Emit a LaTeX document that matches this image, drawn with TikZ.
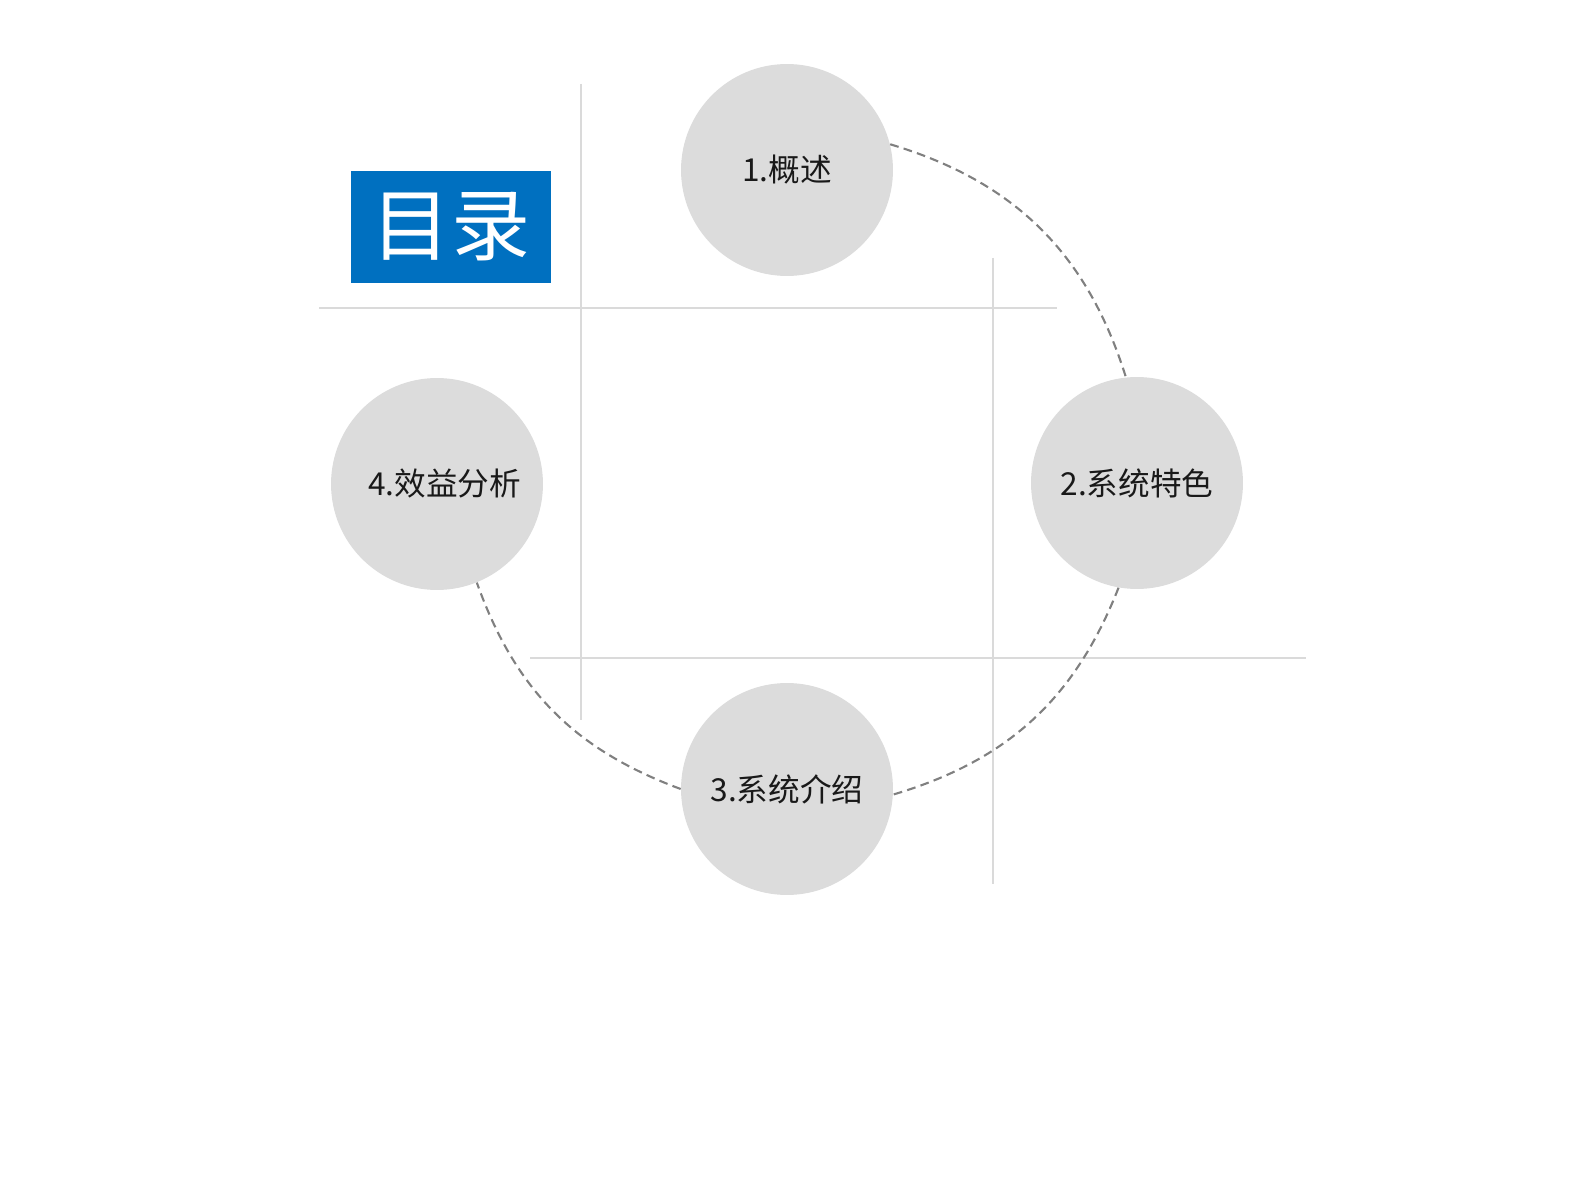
\documentclass[tikz,border=0pt]{standalone}
\usepackage{fontspec}
\newfontfamily\cjk{Noto Sans CJK SC}
\usepackage{tikz}
\usetikzlibrary{calc}
\definecolor{titleblue}{RGB}{0,112,192}
\definecolor{discgray}{RGB}{220,220,220}
\definecolor{gridgray}{RGB}{218,218,218}
\definecolor{arcgray}{RGB}{128,128,128}

\begin{document}
\begin{tikzpicture}[x=0.02cm,y=-0.02cm,
  disc/.style={circle,fill=discgray,minimum size=4.24cm,inner sep=0pt,text=black!90,font=\cjk\fontsize{18}{20}\selectfont},
  guide/.style={color=gridgray,line width=0.8pt},
  link/.style={color=arcgray,line width=1.2pt,dash pattern=on 5pt off 3pt}]
\useasboundingbox (0,0) rectangle (1587,1182);
% \draw[help lines, color=gray!30, dashed] (0,0) grid[step=100] (1587,1182);
\draw[guide] (581,84)--(581,720);
\draw[guide] (319,308)--(1057,308);
\draw[guide] (993,258)--(993,884);
\draw[guide] (530,658)--(1306,658);
\node[fill=titleblue,minimum width=4cm,minimum height=2.24cm,text=white,font=\cjk\fontsize{45}{48}\selectfont] (title) at (451,227){目录};
\node[disc] (s1) at (787,170){1.概述};
\node[disc] (s2) at (1137,483){2.系统特色};
\node[disc] (s3) at (787,789){3.系统介绍};
\node[disc] (s4) at (437,484){\hspace*{0.3cm}4.效益分析};
\draw[link] (s1.14) to[bend left=28] (s2.96);
\draw[link] (s2.260) to[bend left=26] (s3.357);
\draw[link] (s3.180) to[bend left=25] (s4.292);
\end{tikzpicture}
\end{document}
